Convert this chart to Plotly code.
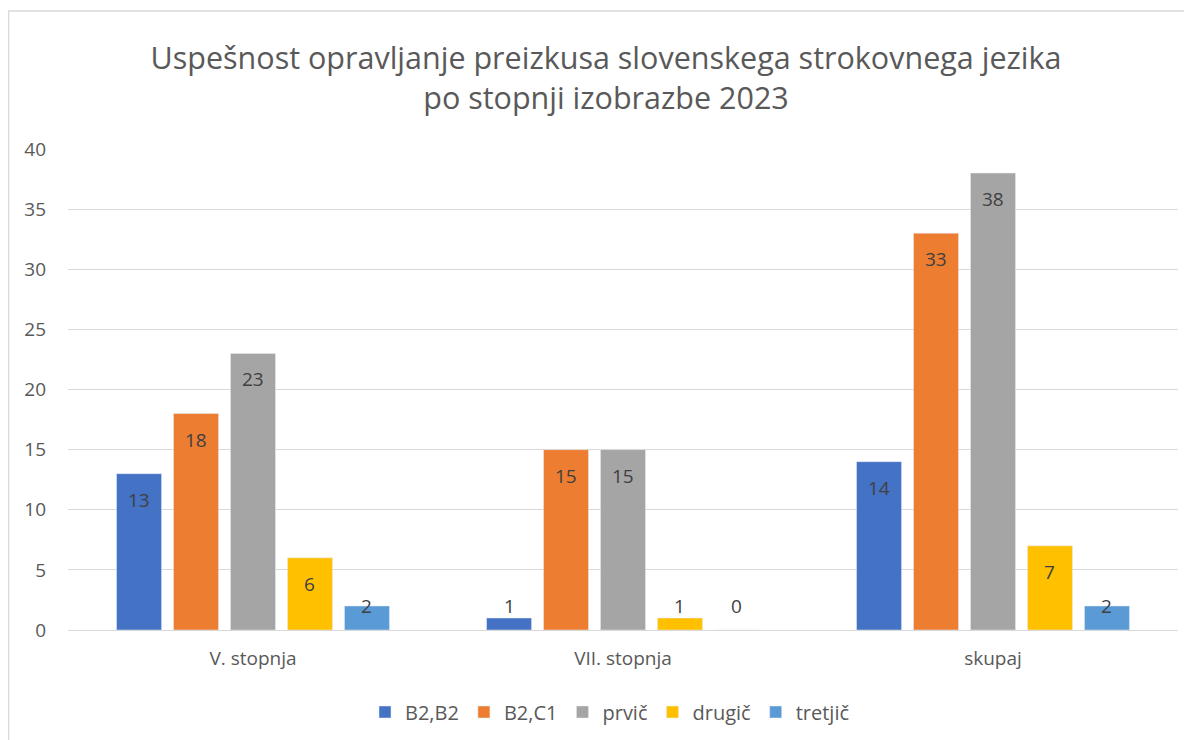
import plotly.graph_objects as go

categories = ["V. stopnja", "VII. stopnja", "skupaj"]
series_names = ["B2,B2", "B2,C1", "prvič", "drugič", "tretjič"]
b2b2 = [13, 1, 14]
b2c1 = [18, 15, 33]
prvic = [23, 15, 38]
drugic = [6, 1, 7]
tretjic = [2, 0, 2]
y_ticks = [0, 5, 10, 15, 20, 25, 30, 35, 40]

colors = ["#4472C4", "#ED7D31", "#A5A5A5", "#FFC000", "#5B9BD5"]
all_values = [b2b2, b2c1, prvic, drugic, tretjic]

FONT = "Open Sans"
L, R, T, B = 60, 22, 141, 118
W, H = 1192, 740
PW = W - L - R
PH = H - T - B
BARGAP = 0.23
GROUPGAP = 0.21
YMAX = 40

fig = go.Figure()
for name, vals, col in zip(series_names, all_values, colors):
    fig.add_trace(go.Bar(
        x=categories, y=vals, name=name, marker_color=col,
        cliponaxis=False,
    ))

# data labels (Excel "inside end" style), anchored to each bar via axis scales
n = len(series_names)
slot = PW / len(categories) * (1 - BARGAP) / n
px_per_unit = PH / YMAX
annotations = []
for i, vals in enumerate(all_values):
    for cat, v in zip(categories, vals):
        inside_shift = v * px_per_unit - 26
        if inside_shift >= 24:
            y, ys = v, -26
        else:
            y, ys = 0, 24
        annotations.append(dict(
            x=cat, y=y, xref="x", yref="y", text=str(v), showarrow=False,
            xshift=(i - (n - 1) / 2) * slot, yshift=ys,
            xanchor="center", yanchor="middle",
            font=dict(family=FONT, size=19, color="#404040"),
        ))

fig.update_layout(
    width=W, height=H,
    paper_bgcolor="white", plot_bgcolor="white",
    margin=dict(l=L, r=R, t=T, b=B, autoexpand=False),
    barmode="group", bargap=BARGAP, bargroupgap=GROUPGAP,
    title=dict(
        text="Uspešnost opravljanje preizkusa slovenskega strokovnega jezika<br>po stopnji izobrazbe 2023",
        x=(598 - L) / PW, xref="paper", xanchor="center", y=1 - 61 / H, yanchor="middle",
        font=dict(family=FONT, size=30.5, color="#595959"),
    ),
    xaxis=dict(
        tickfont=dict(family=FONT, size=19, color="#595959"),
        showgrid=False, showline=False, ticks="", ticklabelstandoff=15,
    ),
    yaxis=dict(
        range=[0, YMAX], tickvals=y_ticks,
        tickfont=dict(family=FONT, size=19, color="#595959"),
        showgrid=True, gridcolor="#D9D9D9", gridwidth=1,
        zeroline=True, zerolinecolor="#D9D9D9", zerolinewidth=1,
        showline=False, ticks="", ticklabelstandoff=21,
    ),
    legend=dict(
        orientation="h", x=(602 - L) / PW, xanchor="center",
        y=(622 - 704) / PH, yanchor="middle",
        font=dict(family=FONT, size=20, color="#595959"),
        itemwidth=30, traceorder="normal",
    ),
    annotations=annotations,
    shapes=[dict(
        type="rect", xref="paper", yref="paper",
        x0=(0.5 - L) / PW, x1=(W + 10 - L) / PW,
        y0=(622 - H - 10) / PH, y1=(622 - 3) / PH,
        line=dict(color="#D9D9D9", width=1.5), fillcolor="rgba(0,0,0,0)",
        layer="below",
    )],
    showlegend=True,
)

fig.write_html("out.html")
